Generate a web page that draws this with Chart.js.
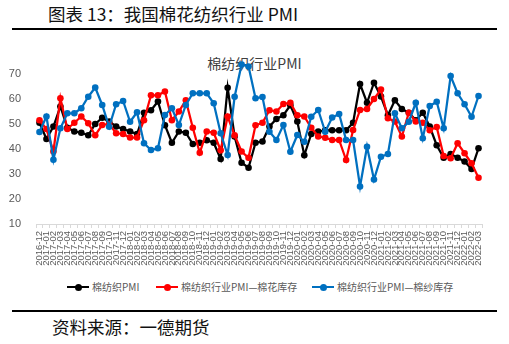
<!DOCTYPE html>
<html><head><meta charset="utf-8">
<script src="https://cdn.jsdelivr.net/npm/chart.js@4/dist/chart.umd.min.js"></script>
<style>
html,body{margin:0;padding:0;background:#fff;width:509px;height:344px;overflow:hidden;position:relative;font-family:"Noto Sans CJK SC",sans-serif;}
#hdr{position:absolute;left:48px;top:2px;font-size:17.5px;color:#111;white-space:nowrap;line-height:24px;}
#rule1{position:absolute;left:12px;top:28px;width:485px;height:2px;background:#000;}
#ctitle{position:absolute;left:0;width:509px;top:53px;text-align:center;font-size:14px;color:#404040;line-height:20px;}
#wrap{position:absolute;left:0;top:0;width:509px;height:270px;}
#rule2{position:absolute;left:12px;top:310px;width:485px;height:2px;background:#000;}
#src{position:absolute;left:52px;top:316px;font-size:17.5px;color:#111;line-height:22px;white-space:nowrap;}
.lg{position:absolute;top:279px;height:16px;display:flex;align-items:center;white-space:nowrap;font-size:10px;color:#595959;line-height:16px;}
.ic{position:relative;width:22px;height:8px;margin-right:3px;display:inline-block;}
.ic .ln{position:absolute;left:0;top:3px;width:22px;height:2.25px;}
.ic .dt{position:absolute;left:7.5px;top:0.5px;width:7px;height:7px;border-radius:50%;}
</style></head>
<body>
<div id="hdr">图表 13：我国棉花纺织行业 PMI</div>
<div id="rule1"></div>
<div id="ctitle">棉纺织行业PMI</div>
<div id="wrap"><canvas id="c" width="509" height="270"></canvas></div>
<div id="legend"></div>
<div id="rule2"></div>
<div id="src">资料来源：一德期货</div>
<script>
const categories = [
"2016-12",
"2017-01","2017-02","2017-03","2017-04","2017-05","2017-06","2017-07","2017-08","2017-09","2017-10","2017-11","2017-12",
"2018-01","2018-02","2018-03","2018-04","2018-05","2018-06","2018-07","2018-08","2018-09","2018-10","2018-11","2018-12",
"2019-01","2019-02","2019-03","2019-04","2019-05","2019-06","2019-07","2019-08","2019-09","2019-10","2019-11","2019-12",
"2020-01","2020-02","2020-03","2020-04","2020-05","2020-06","2020-07","2020-08","2020-09","2020-10","2020-11","2020-12",
"2021-01","2021-02","2021-03","2021-04","2021-05","2021-06","2021-07","2021-08","2021-09","2021-10","2021-11","2021-12",
"2022-01","2022-02","2022-03"];

const pmiCotton = [
50.5,
44,49,57,48.5,47,46.5,45.5,50,52.5,51,49,48,
47,46,54.5,55.5,59,49.5,42.5,47,46.5,42,42.5,43.5,
42.5,36,64.5,45,34.5,32.5,42.5,43,49,52,53.5,57.5,
51,37.5,46,47,47.5,47.5,47.5,47.5,50.5,66,58.5,66.5,
61,53.5,59.5,56,54.5,51.5,54.5,49,41.5,36.5,38,36.5,
35,32,40.3];

const pmiCottonStock = [
51.5,
48,39,60.3,48,50.5,53,50.3,45.5,49.6,50,46.3,46,
44.6,44.6,51.5,61.5,61.5,63,51.5,55,59.5,48.5,38.5,47,
46.5,39.5,53,45.5,39,36.5,49.5,50.5,55.5,55,58,58.5,
53.5,53,48.5,45,44.5,43.6,43.6,35.6,47.6,55.6,56,60,
63.8,52.3,51,45,54.5,51,50.5,47.5,48.8,37.2,36.3,42.3,
38.3,34.3,28.5];

const pmiYarnStock = [
46.8,
53,35.7,48.3,54.3,54.3,56.3,60.9,64.6,57.6,48.9,57.9,59.2,
50.9,54.7,42.3,39.6,40.3,53.6,56.3,49.6,57.6,62.3,62.3,62.3,
58.3,46.3,37.6,60.9,73.8,73,60.3,60.8,46.9,43.6,49.6,38.9,
45.6,42.9,52.9,55.6,46.9,52.6,54,43.6,43.6,25,40.9,27.8,
36.9,38,54.3,48.3,50.9,58.5,44.3,57.2,58.9,48.3,69.2,62.3,
57.9,52.9,61.2];

const seriesNames = ["棉纺织PMI","棉纺织行业PMI—棉花库存","棉纺织行业PMI—棉纱库存"];
const seriesColors = ["#000000","#FF0000","#0070C0"];
const legendLeft = [67, 156, 312];
const yTicks = [10,20,30,40,50,60,70];

// HTML legend (real text)
const lg = document.getElementById('legend');
seriesNames.forEach((name, i) => {
  const item = document.createElement('div');
  item.className = 'lg';
  item.style.left = legendLeft[i] + 'px';
  const ic = document.createElement('span');
  ic.className = 'ic';
  const ln = document.createElement('span'); ln.className = 'ln'; ln.style.background = seriesColors[i];
  const dt = document.createElement('span'); dt.className = 'dt'; dt.style.background = seriesColors[i];
  ic.appendChild(ln); ic.appendChild(dt);
  const tx = document.createElement('span'); tx.textContent = name;
  item.appendChild(ic); item.appendChild(tx);
  lg.appendChild(item);
});

function ds(i, data, order){
  return {
    label: seriesNames[i], data: data, order: order,
    borderColor: seriesColors[i], backgroundColor: seriesColors[i],
    pointBackgroundColor: seriesColors[i], pointBorderColor: seriesColors[i],
    borderWidth: 2.25, pointRadius: 3.3, pointBorderWidth: 0,
    pointStyle: 'circle', tension: 0, fill: false
  };
}

Chart.defaults.font.family = "'Liberation Sans','Noto Sans CJK SC',sans-serif";
new Chart(document.getElementById('c'), {
  type: 'line',
  data: {
    labels: categories,
    datasets: [ds(0, pmiCotton, 2), ds(1, pmiCottonStock, 1), ds(2, pmiYarnStock, 0)]
  },
  options: {
    responsive: false, animation: false,
    layout: { padding: { left: 0, right: 27, top: 49, bottom: 0 } },
    plugins: {
      tooltip: { enabled: false },
      title: { display: false },
      legend: { display: false }
    },
    scales: {
      x: {
        type: 'category', offset: true,
        afterFit: (s) => { s.height = 46; },
        grid: { display: true, drawOnChartArea: false, drawTicks: true, tickLength: 4, color: '#d9d9d9', offset: true },
        border: { display: true, color: '#d9d9d9', width: 1 },
        ticks: { autoSkip: false, maxRotation: 90, minRotation: 90, padding: 3, color: '#595959', font: { size: 9.5 } }
      },
      y: {
        min: 10, max: 80,
        afterFit: (s) => { s.width = 36; },
        afterBuildTicks: (s) => { s.ticks = yTicks.map(v => ({ value: v })); },
        grid: { display: false },
        border: { display: false },
        ticks: { padding: 7, color: '#595959', font: { size: 11 } }
      }
    }
  }
});
</script>
</body></html>
